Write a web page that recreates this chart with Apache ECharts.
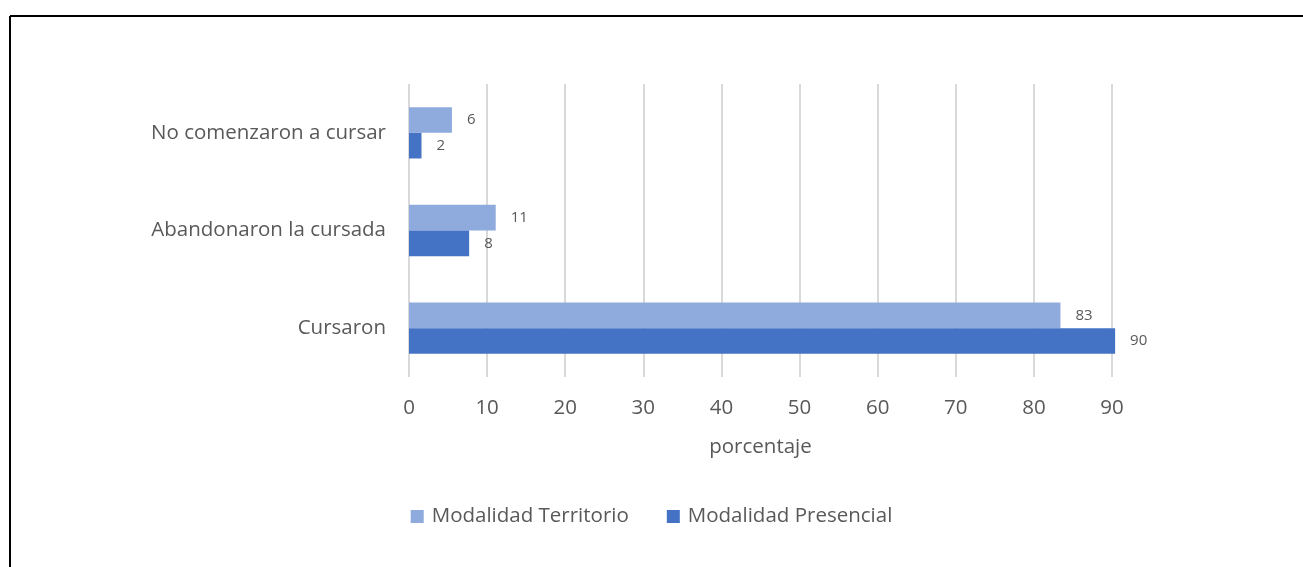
<!DOCTYPE html>
<html>
<head>
<meta charset="utf-8">
<script src="https://cdn.jsdelivr.net/npm/echarts@6/dist/echarts.min.js"></script>
<style>
html,body{margin:0;padding:0;background:#fff;}
#chart{width:1303px;height:567px;}
</style>
</head>
<body>
<div id="chart"></div>
<script>
const categories = ['Cursaron', 'Abandonaron la cursada', 'No comenzaron a cursar'];
const territorio = [83.4, 11.1, 5.5];
const presencial = [90.4, 7.7, 1.6];
const seriesNames = ['Modalidad Territorio', 'Modalidad Presencial'];
const axisTitle = 'porcentaje';

const FONT = '"Open Sans", "Noto Sans", sans-serif';
const TEXT = '#595959';
const FS = 20.5;

const chart = echarts.init(document.getElementById('chart'), null, {renderer: 'canvas'});
const labelOpt = {
  show: true,
  position: 'right',
  distance: 15,
  color: TEXT,
  fontFamily: FONT,
  fontSize: 15,
  formatter: p => Math.round(p.value)
};
chart.setOption({
  animation: false,
  backgroundColor: '#fff',
  grid: {left: 409, right: 191, top: 84, bottom: 190, containLabel: false},
  legend: {
    data: seriesNames,
    bottom: 35,
    left: 'center',
    itemWidth: 13,
    itemHeight: 13,
    itemGap: 38,
    icon: 'rect',
    textStyle: {color: TEXT, fontFamily: FONT, fontSize: FS, padding: [0, 0, 0, 3]}
  },
  xAxis: {
    type: 'value',
    min: 0,
    max: 90,
    interval: 10,
    name: axisTitle,
    nameLocation: 'middle',
    nameGap: 60,
    nameTextStyle: {color: TEXT, fontFamily: FONT, fontSize: FS},
    axisLine: {show: false},
    axisTick: {show: false},
    axisLabel: {color: TEXT, fontFamily: FONT, fontSize: FS, margin: 21},
    splitLine: {show: true, lineStyle: {color: '#D9D9D9', width: 2}}
  },
  yAxis: {
    type: 'category',
    data: categories,
    axisLine: {show: false},
    axisTick: {show: false},
    axisLabel: {color: TEXT, fontFamily: FONT, fontSize: FS, margin: 23}
  },
  series: [
    {
      name: seriesNames[0],
      type: 'bar',
      data: territorio,
      barGap: '0%',
      barCategoryGap: '47.5%',
      clip: false,
      itemStyle: {color: '#8FAADC'},
      label: labelOpt
    },
    {
      name: seriesNames[1],
      type: 'bar',
      data: presencial,
      barGap: '0%',
      barCategoryGap: '47.5%',
      clip: false,
      itemStyle: {color: '#4472C4'},
      label: labelOpt
    }
  ],
  graphic: [
    {type: 'line', shape: {x1: 10, y1: 16, x2: 1303, y2: 16}, style: {stroke: '#000', lineWidth: 2}},
    {type: 'line', shape: {x1: 10, y1: 16, x2: 10, y2: 567}, style: {stroke: '#000', lineWidth: 2}}
  ]
});
</script>
</body>
</html>
